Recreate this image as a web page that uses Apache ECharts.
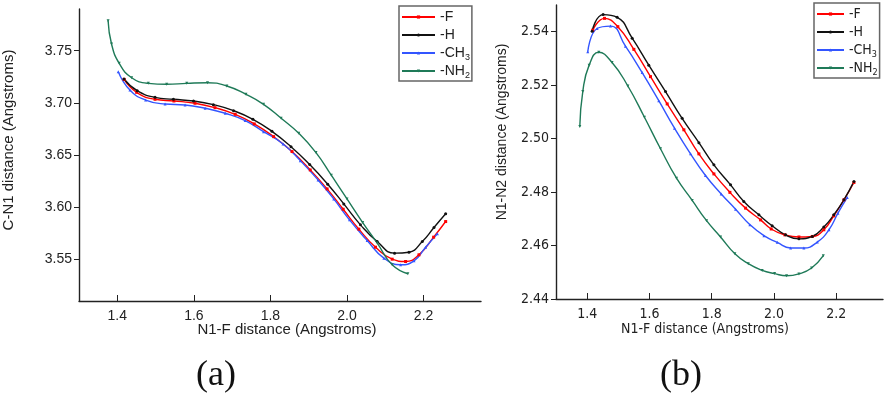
<!DOCTYPE html>
<html>
<head>
<meta charset="utf-8">
<script src="https://cdn.jsdelivr.net/npm/echarts@6/dist/echarts.min.js"></script>
<style>
  html, body { margin: 0; padding: 0; background: #fff; }
  #main { width: 886px; height: 396px; }
</style>
</head>
<body>
<div id="main"></div>
<script>
// panel (a): C-N1 distance vs N1-F distance
const aX_F = [1.418, 1.4506, 1.4986, 1.548, 1.603, 1.6553, 1.708, 1.7578, 1.8084, 1.8564, 1.904, 1.948, 1.99, 2.031, 2.0745, 2.118, 2.153, 2.188, 2.2263, 2.2577]
const aY_F = [3.7225, 3.7101, 3.7034, 3.7018, 3.6996, 3.6954, 3.689, 3.6798, 3.6676, 3.6533, 3.6357, 3.6175, 3.598, 3.5789, 3.5616, 3.5501, 3.5479, 3.5543, 3.5712, 3.5862]
const aX_H = [1.4175, 1.452, 1.4986, 1.5466, 1.599, 1.651, 1.7037, 1.7543, 1.804, 1.8538, 1.9026, 1.9497, 1.9916, 2.0352, 2.0789, 2.1243, 2.1618, 2.1967, 2.2272, 2.2577]
const aY_H = [3.7229, 3.7117, 3.7053, 3.7034, 3.7018, 3.6983, 3.6925, 3.6842, 3.6727, 3.658, 3.6408, 3.622, 3.6031, 3.583, 3.567, 3.5559, 3.5568, 3.567, 3.5805, 3.5936]
const aX_C = [1.4026, 1.433, 1.474, 1.5248, 1.577, 1.6295, 1.682, 1.734, 1.782, 1.833, 1.878, 1.9244, 1.9654, 2.0065, 2.0527, 2.0963, 2.14, 2.175, 2.2054, 2.236]
const aY_C = [3.7299, 3.7123, 3.7027, 3.6989, 3.698, 3.6948, 3.69, 3.683, 3.6724, 3.6606, 3.6446, 3.6261, 3.6079, 3.5878, 3.568, 3.5511, 3.5447, 3.5485, 3.5616, 3.5744]
const aX_N = [1.376, 1.385, 1.405, 1.4375, 1.481, 1.529, 1.5815, 1.6356, 1.686, 1.736, 1.782, 1.828, 1.874, 1.919, 1.959, 2.0, 2.041, 2.079, 2.118, 2.159]
const aY_N = [3.7787, 3.7564, 3.7379, 3.7241, 3.7187, 3.7178, 3.7187, 3.7193, 3.7162, 3.7082, 3.6986, 3.6852, 3.6708, 3.6523, 3.6306, 3.6079, 3.5852, 3.5655, 3.5447, 3.5361]

// panel (b): N1-N2 distance vs N1-F distance
const bX_F = [1.418, 1.4557, 1.4985, 1.55, 1.6035, 1.657, 1.7106, 1.7588, 1.807, 1.8584, 1.9087, 1.957, 1.991, 2.035, 2.08, 2.123, 2.16, 2.192, 2.2246, 2.2567]
const bY_F = [2.5406, 2.545, 2.5419, 2.5334, 2.5232, 2.513, 2.5033, 2.4943, 2.4868, 2.4799, 2.474, 2.4696, 2.4662, 2.464, 2.4632, 2.4634, 2.4659, 2.4711, 2.4771, 2.4836]
const bX_H = [1.416, 1.4514, 1.4964, 1.5446, 1.598, 1.6517, 1.705, 1.7588, 1.807, 1.8605, 1.903, 1.9515, 1.994, 2.037, 2.08, 2.123, 2.16, 2.192, 2.2246, 2.2567]
const bY_H = [2.5402, 2.5464, 2.5454, 2.5376, 2.5275, 2.5176, 2.5076, 2.4985, 2.4902, 2.4827, 2.4765, 2.4715, 2.4674, 2.464, 2.4625, 2.4634, 2.4669, 2.4715, 2.4771, 2.484]
const bX_C = [1.402, 1.432, 1.475, 1.523, 1.5767, 1.63, 1.6806, 1.732, 1.78, 1.8305, 1.8766, 1.9226, 1.9676, 2.0104, 2.0533, 2.096, 2.139, 2.1765, 2.2053, 2.2353]
const bY_C = [2.5325, 2.5412, 2.5421, 2.5346, 2.5247, 2.5142, 2.5039, 2.4943, 2.4862, 2.4793, 2.4736, 2.4678, 2.4637, 2.4612, 2.4591, 2.4591, 2.4613, 2.4659, 2.4721, 2.478]
const bX_N = [1.3764, 1.386, 1.4064, 1.4375, 1.48, 1.5307, 1.584, 1.6356, 1.687, 1.7373, 1.7834, 1.8284, 1.8744, 1.9173, 1.962, 2.0019, 2.0404, 2.08, 2.1208, 2.1583]
const bY_N = [2.5045, 2.5176, 2.5275, 2.5323, 2.5285, 2.5197, 2.508, 2.4962, 2.4852, 2.4769, 2.4693, 2.4632, 2.4569, 2.4532, 2.4507, 2.4495, 2.4487, 2.4494, 2.4516, 2.4562]

const xTicks = [1.4, 1.6, 1.8, 2.0, 2.2]
const aYTicks = [3.55, 3.60, 3.65, 3.70, 3.75]
const bYTicks = [2.44, 2.46, 2.48, 2.50, 2.52, 2.54]

const names = ['-F', '-H', '-CH3', '-NH2']
const colors = ['#ff0000', '#111111', '#3355ff', '#1f7a58']
const symbols = ['rect', 'circle', 'triangle', 'triangle']
const rotates = [0, 0, 0, 180]

const SANS = "'Liberation Sans', Arial, sans-serif"
const NARROW = "'Liberation Sans Narrow', 'Arial Narrow', 'DejaVu Sans Condensed', sans-serif"

const zip = (xs, ys) => xs.map((x, i) => [x, ys[i]])

const legendFormatter = name => {
  if (name === '-CH3') return '-CH{sub|3}'
  if (name === '-NH2') return '-NH{sub|2}'
  return name
}

const makeSeries = (idx, sets) => sets.map((d, i) => ({
  name: names[i],
  type: 'line',
  xAxisIndex: idx,
  yAxisIndex: idx,
  data: zip(d[0], d[1]),
  smooth: 0.5,
  symbol: symbols[i],
  symbolRotate: rotates[i],
  symbolSize: 3,
  color: colors[i],
  lineStyle: { width: 1.4, color: colors[i] },
  itemStyle: { color: colors[i] },
  animation: false
}))

const xAxisBase = (idx, font) => ({
  type: 'value',
  gridIndex: idx,
  min: 1.3,
  max: 2.35,
  splitLine: { show: false },
  axisLine: { show: true, onZero: false, lineStyle: { color: '#222', width: 1.4 } },
  axisTick: { show: true, inside: true, length: 6, customValues: xTicks, lineStyle: { color: '#222' } },
  axisLabel: {
    customValues: xTicks, margin: 8, color: '#222', fontSize: 14, fontFamily: font,
    formatter: v => v.toFixed(1)
  }
})

const yAxisBase = (idx, min, max, ticks, font) => ({
  type: 'value',
  gridIndex: idx,
  min: min,
  max: max,
  splitLine: { show: false },
  axisLine: { show: true, onZero: false, lineStyle: { color: '#222', width: 1.4 } },
  axisTick: { show: true, length: 5, customValues: ticks, lineStyle: { color: '#222' } },
  axisLabel: {
    customValues: ticks, margin: 7, color: '#222', fontSize: 14, fontFamily: font,
    formatter: v => v.toFixed(2)
  }
})

const legendBase = (idx, left, top, itemWidth, font) => ({
  show: true,
  orient: 'vertical',
  left: left,
  top: top,
  data: names,
  formatter: legendFormatter,
  itemWidth: itemWidth,
  itemHeight: 4,
  itemGap: 0,
  padding: [2, 2, 1, 2],
  borderColor: '#666',
  borderWidth: 1.5,
  borderRadius: 0,
  textStyle: {
    color: '#222', fontSize: 14, lineHeight: 18, fontFamily: font,
    rich: { sub: { fontSize: 9, fontFamily: font, color: '#222', verticalAlign: 'bottom', padding: [6, 0, 0, 0] } }
  },
  selectedMode: false
})

const chart = echarts.init(document.getElementById('main'), null, { renderer: 'canvas' })
chart.setOption({
  backgroundColor: '#fff',
  animation: false,
  grid: [
    { left: 79, top: 9, width: 402, height: 292 },
    { left: 556, top: 5, width: 327, height: 294 }
  ],
  xAxis: [xAxisBase(0, SANS), xAxisBase(1, NARROW)],
  yAxis: [
    yAxisBase(0, 3.51, 3.79, aYTicks, SANS),
    yAxisBase(1, 2.44, 2.55, bYTicks, NARROW)
  ],
  legend: [
    legendBase(0, 399, 6, 33, SANS),
    legendBase(1, 814, 3, 27, NARROW)
  ],
  series: [
    ...makeSeries(0, [[aX_F, aY_F], [aX_H, aY_H], [aX_C, aY_C], [aX_N, aY_N]]),
    ...makeSeries(1, [[bX_F, bY_F], [bX_H, bY_H], [bX_C, bY_C], [bX_N, bY_N]])
  ],
  graphic: [
    { type: 'text', x: 287, y: 330, style: { text: 'N1-F distance (Angstroms)', fill: '#222', font: '15px ' + SANS, align: 'center', verticalAlign: 'middle' } },
    { type: 'text', x: 705, y: 329, style: { text: 'N1-F distance (Angstroms)', fill: '#222', font: '14px ' + NARROW, align: 'center', verticalAlign: 'middle' } },
    { type: 'text', x: 9, y: 140, rotation: Math.PI / 2, style: { text: 'C-N1 distance (Angstroms)', fill: '#222', font: '15px ' + SANS, align: 'center', verticalAlign: 'middle' } },
    { type: 'text', x: 502, y: 132, rotation: Math.PI / 2, style: { text: 'N1-N2 distance (Angstroms)', fill: '#222', font: '14px ' + SANS, align: 'center', verticalAlign: 'middle' } },
    { type: 'text', x: 216, y: 376, style: { text: '(a)', fill: '#111', font: '36px "Liberation Serif", "Times New Roman", serif', align: 'center', verticalAlign: 'middle' } },
    { type: 'text', x: 681, y: 376, style: { text: '(b)', fill: '#111', font: '36px "Liberation Serif", "Times New Roman", serif', align: 'center', verticalAlign: 'middle' } }
  ]
})
</script>
</body>
</html>
